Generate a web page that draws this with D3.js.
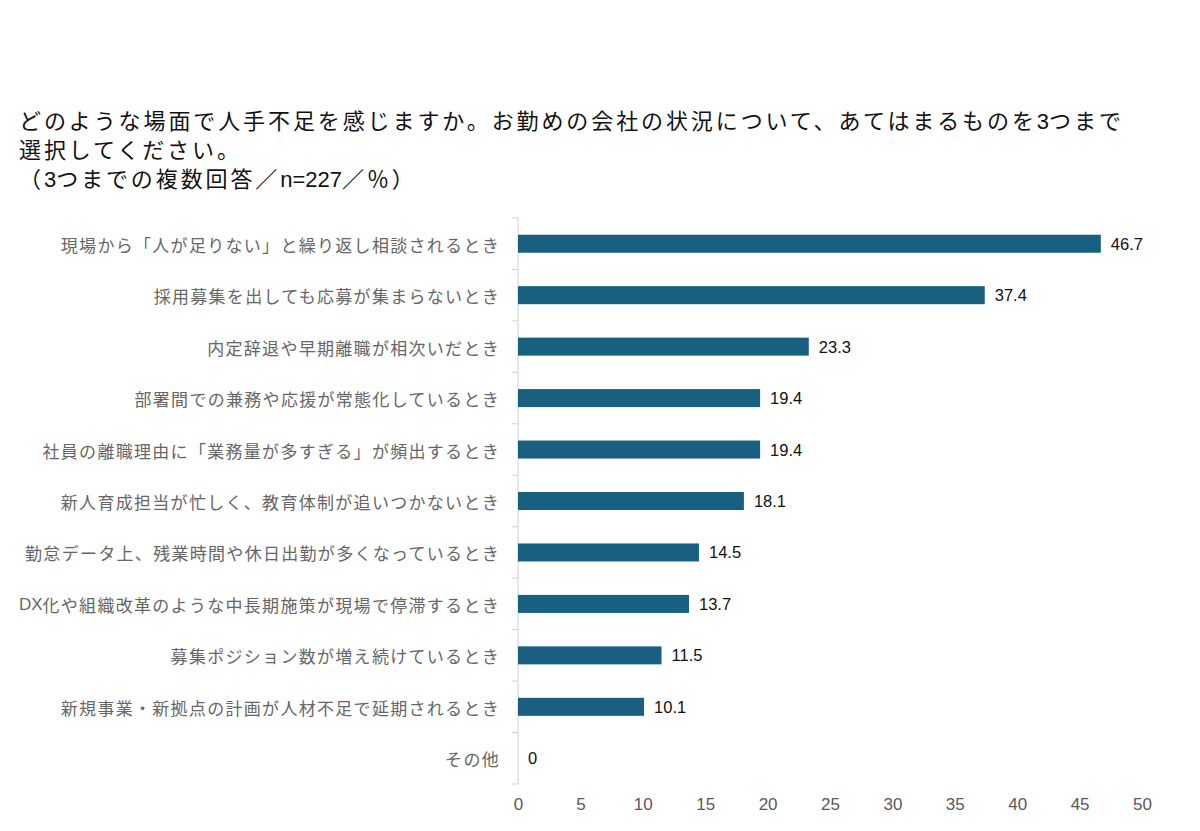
<!DOCTYPE html>
<html lang="ja">
<head>
<meta charset="utf-8">
<script src="https://cdn.jsdelivr.net/npm/d3@7"></script>
<style>
  body { margin: 0; background: #fff; }
  svg { display: block; font-family: "Liberation Sans", "Noto Sans CJK JP", sans-serif; }
</style>
</head>
<body>
<div id="chart"></div>
<script>
const width = 1200;
const height = 831;

const titleLines = [
    "どのような場面で人手不足を感じますか。お勤めの会社の状況について、あてはまるものを3つまで",
    "選択してください。",
    "（3つまでの複数回答／n=227／％）"
]

const categories = [
    "現場から「人が足りない」と繰り返し相談されるとき",
    "採用募集を出しても応募が集まらないとき",
    "内定辞退や早期離職が相次いだとき",
    "部署間での兼務や応援が常態化しているとき",
    "社員の離職理由に「業務量が多すぎる」が頻出するとき",
    "新人育成担当が忙しく、教育体制が追いつかないとき",
    "勤怠データ上、残業時間や休日出勤が多くなっているとき",
    "DX化や組織改革のような中長期施策が現場で停滞するとき",
    "募集ポジション数が増え続けているとき",
    "新規事業・新拠点の計画が人材不足で延期されるとき",
    "その他"
]
const values = [46.7, 37.4, 23.3, 19.4, 19.4, 18.1, 14.5, 13.7, 11.5, 10.1, 0]
const xTicks = [0, 5, 10, 15, 20, 25, 30, 35, 40, 45, 50]

var margin = { left: 518, right: 58, top: 218, bottom: 47 }

var svg = d3.select("#chart").append("svg")
    .attr("width", width)
    .attr("height", height);

// split text into latin / japanese runs so only japanese gets the wider spacing
function addRuns(textSel, str, spacing) {
    var runs = str.match(/[\x20-\x7e]+|[^\x20-\x7e]+/g) || [];
    runs.forEach(r => {
        var latin = /^[\x20-\x7e]+$/.test(r);
        textSel.append("tspan")
            .style("letter-spacing", latin ? "0px" : spacing + "px")
            .style("font-family", latin ? "\"Liberation Sans\", sans-serif" : "\"Noto Sans CJK JP\", sans-serif")
            .text(r);
    });
}

// title
svg.append("g").selectAll("text")
    .data(titleLines)
    .enter()
    .append("text")
    .attr("x", 19)
    .attr("y", (d, i) => 129 + i * 29)
    .style("font-size", "22px")
    .attr("fill", "#111")
    .each(function (d) { addRuns(d3.select(this), d, 2.9); });

var x = d3.scaleLinear()
    .domain([0, 50])
    .range([margin.left, width - margin.right]);

var y = d3.scaleBand()
    .domain(categories)
    .range([margin.top, height - margin.bottom])
    .paddingInner(0.65)
    .paddingOuter(0.325);

// y axis line and ticks between bands
var yAxisG = svg.append("g");
yAxisG.append("line")
    .attr("x1", margin.left).attr("x2", margin.left)
    .attr("y1", margin.top).attr("y2", height - margin.bottom)
    .attr("stroke", "#d0d0d0").attr("stroke-width", 1);

var step = y.step();
var tickYs = d3.range(categories.length + 1).map(i => margin.top + i * step);
yAxisG.selectAll(".ytick")
    .data(tickYs)
    .enter()
    .append("line")
    .attr("class", "ytick")
    .attr("x1", margin.left - 6).attr("x2", margin.left)
    .attr("y1", d => d).attr("y2", d => d)
    .attr("stroke", "#d0d0d0").attr("stroke-width", 1);

// category labels
svg.append("g").selectAll("text")
    .data(categories)
    .enter()
    .append("text")
    .attr("x", margin.left - 18)
    .attr("y", d => y(d) + y.bandwidth() / 2)
    .attr("text-anchor", "end")
    .attr("dominant-baseline", "central")
    .style("font-size", "17px")
    .attr("fill", "#666")
    .each(function (d) { addRuns(d3.select(this), d, 1.3); });

// bars
svg.append("g").selectAll("rect")
    .data(values)
    .enter()
    .append("rect")
    .attr("x", x(0))
    .attr("y", (d, i) => y(categories[i]))
    .attr("width", d => x(d) - x(0))
    .attr("height", y.bandwidth())
    .attr("fill", "#185f80");

// value labels
svg.append("g").selectAll("text")
    .data(values)
    .enter()
    .append("text")
    .attr("x", d => x(d) + 10)
    .attr("y", (d, i) => y(categories[i]) + y.bandwidth() / 2)
    .attr("dominant-baseline", "central")
    .style("font-size", "16.5px")
    .attr("fill", "#111")
    .text(d => d);

// x tick labels
var xAxis = d3.axisBottom(x).tickValues(xTicks).tickSize(0).tickPadding(14);
var xg = svg.append("g")
    .attr("transform", "translate(0," + (height - margin.bottom) + ")")
    .call(xAxis);
xg.select(".domain").remove();
xg.selectAll("text")
    .style("font-size", "17px")
    .style("font-family", "\"Liberation Sans\", sans-serif")
    .attr("fill", "#595959");
</script>
</body>
</html>
